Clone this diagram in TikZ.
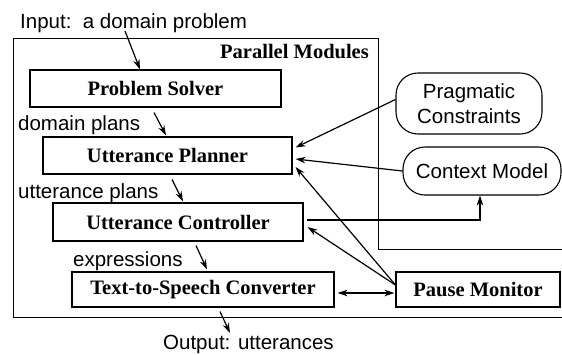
\documentclass[tikz,border=0pt]{standalone}
\usepackage{fontspec}
\setmainfont{Liberation Serif}
\newfontfamily\labelsans{Liberation Sans}
\usetikzlibrary{arrows.meta,calc}

\tikzset{
  module/.style={draw, line width=1.1pt, rectangle, inner sep=0pt,
    font=\fontsize{20.5}{23}\selectfont\bfseries},
  knowledge/.style={draw, line width=1.1pt, rectangle, rounded corners=22pt,
    inner sep=0pt, align=center, font=\fontsize{20.5}{25}\selectfont\labelsans},
  caption/.style={inner sep=0pt, font=\fontsize{20.5}{23}\selectfont\labelsans},
  frame/.style={line width=1pt},
  arr/.style={line width=1.2pt, -{Stealth[length=10pt,width=6.5pt]}},
  biarr/.style={line width=1.2pt, {Stealth[length=10pt,width=6.5pt]}-{Stealth[length=10pt,width=6.5pt]}},
}

\begin{document}
\begin{tikzpicture}[x=1pt,y=-1pt]
\useasboundingbox (0,0) rectangle (562,354);

% enclosing frame of the parallel modules
\draw[frame] (13,317) -- (13,38) -- (378,38) -- (378,249) -- (562,249);
\draw[frame] (13,317) -- (562,317);
\node[inner sep=0pt, anchor=base east, font=\fontsize{20.5}{23}\selectfont\bfseries]
  (pmtitle) at (369,58) {Parallel Modules};

% modules
\node[module, minimum width=251pt, minimum height=37pt] (ps) at (155.5,88.5) {Problem Solver};
\node[module, minimum width=249pt, minimum height=37pt] (up) at (167.5,155.5) {Utterance Planner};
\node[module, minimum width=250pt, minimum height=38pt] (uc) at (178,222) {Utterance Controller};
\node[module, minimum width=262pt, minimum height=35pt] (tts) at (203,289.5) {Text-to-Speech Converter};
\node[module, minimum width=164pt, minimum height=35pt] (pm) at (478,289.5) {Pause Monitor};

% knowledge sources
\node[knowledge, minimum width=146pt, minimum height=61pt] (pc) at (469,103.5) {Pragmatic\\Constraints};
\node[knowledge, minimum width=158pt, minimum height=48pt] (cm) at (482,171) {Context Model};

% captions
\node[caption, anchor=base west] (inp) at (20,28) {Input:\ \ a domain problem};
\node[caption, anchor=base west] (dp) at (18,130) {domain plans};
\node[caption, anchor=base west] (upl) at (18,198) {utterance plans};
\node[caption, anchor=base west] (ex) at (73,266) {expressions};
\node[caption, anchor=base west] (out) at (163,349) {Output: utterances};

% data flow through the modules
\coordinate (inA) at (125,31);
\draw[arr] (inA) -- ([xshift=-15.5pt]ps.north);
\draw[arr] ([xshift=-1.5pt,yshift=-5pt]ps.south) -- ([xshift=-1.5pt,yshift=1pt]up.north);
\draw[arr] ([xshift=4.5pt,yshift=-5pt]up.south) -- ([xshift=5pt,yshift=1pt]uc.north);
\draw[arr] ([xshift=18pt,yshift=-4pt]uc.south) -- ([xshift=4pt,yshift=2pt]tts.north);
\coordinate (outB) at (230,333);
\draw[arr] ([xshift=17pt,yshift=-4pt]tts.south) -- (outB);

% influences on planning and control
\draw[arr] ([yshift=4pt]pc.west) -- ([xshift=3pt,yshift=8pt]up.east);
\draw[arr] (cm.west) -- ([xshift=3pt,yshift=-3.5pt]up.east);
\draw[arr] ([yshift=4.5pt]pm.west) -- ([xshift=3pt,yshift=-11.5pt]up.east);
\draw[arr] ([yshift=4.5pt]pm.west) -- ([xshift=4pt,yshift=-5pt]uc.east);
\draw[arr] ([xshift=3pt,yshift=2pt]uc.east) -| ([xshift=-2pt]cm.south);
\draw[biarr] ([xshift=3pt,yshift=-3.5pt]tts.east) -- ([xshift=-1pt,yshift=-3.5pt]pm.west);
\end{tikzpicture}
\end{document}
